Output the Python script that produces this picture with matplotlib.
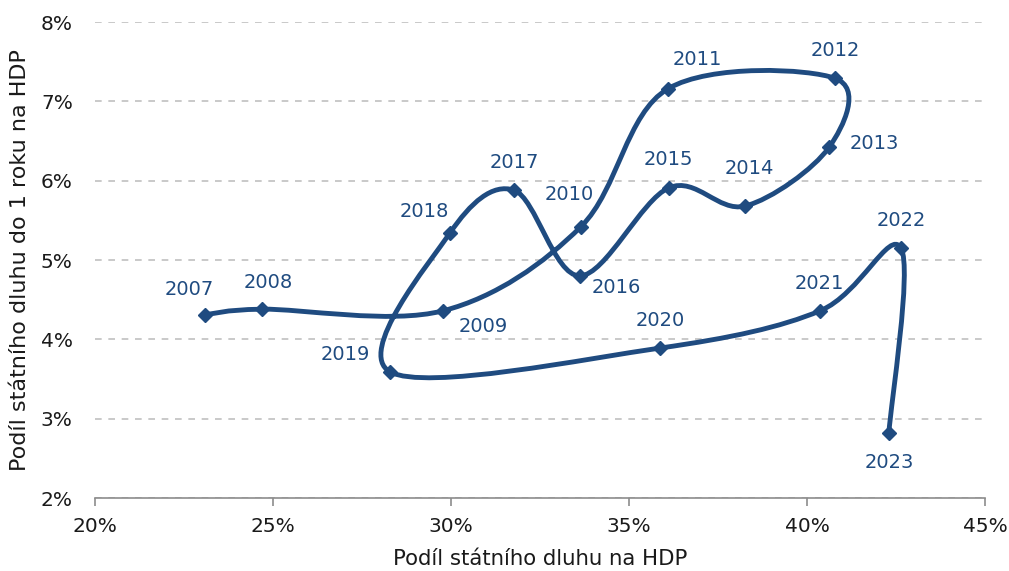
import numpy as np
import matplotlib.pyplot as plt
from matplotlib.path import Path
from matplotlib.patches import PathPatch
from matplotlib.ticker import FuncFormatter

years = ['2007', '2008', '2009', '2010', '2011', '2012', '2013', '2014', '2015',
         '2016', '2017', '2018', '2019', '2020', '2021', '2022', '2023']
debt_gdp = [23.09, 24.69, 29.78, 33.65, 36.10, 40.79, 40.62, 38.26, 36.12,
            33.62, 31.77, 29.97, 28.29, 35.87, 40.37, 42.64, 42.30]
short_debt = [4.31, 4.38, 4.36, 5.42, 7.16, 7.29, 6.42, 5.68, 5.91,
              4.80, 5.88, 5.34, 3.59, 3.89, 4.36, 5.15, 2.82]
# label offsets in pixels (dx, dy)
label_off = [(-16, 25), (6, 27), (40, -16), (-12, 32), (29, 29), (0, 28), (45, 4),
             (4, 38), (0, 28), (36, -12), (0, 28), (-26, 22), (-45, 17), (0, 28),
             (-1, 27), (0, 28), (0, -30)]

BLUE = '#1F4B80'
plt.rcParams['font.family'] = 'DejaVu Sans'

fig = plt.figure(figsize=(10.09, 5.71), dpi=100)
ax = fig.add_axes([95 / 1009, 1 - 498 / 571, 890 / 1009, 476 / 571])
ax.set_xlim(20, 45)
ax.set_ylim(2, 8)
ax.set_xticks(np.arange(20, 46, 5))
ax.set_yticks(np.arange(2, 9, 1))
pct = FuncFormatter(lambda v, p: f'{v:.0f}%')
ax.xaxis.set_major_formatter(pct)
ax.yaxis.set_major_formatter(pct)

ax.grid(axis='y', color='#C0C0C0', linestyle=(0, (4, 4)), linewidth=1.2)
ax.set_axisbelow(True)
for s in ['top', 'right', 'left']:
    ax.spines[s].set_visible(False)
ax.spines['bottom'].set_color('#8C8C8C')
ax.spines['bottom'].set_linewidth(1.2)
ax.tick_params(axis='x', colors='#8C8C8C', length=6, width=1.2, labelcolor='#1a1a1a',
               labelsize=14.5, pad=8)
ax.tick_params(axis='y', length=0, labelsize=14.5, labelcolor='#1a1a1a', pad=16)

# smoothed line (Excel-style bezier), computed in display space
pts = ax.transData.transform(np.column_stack([debt_gdp, short_debt]))
n = len(pts)
verts = [pts[0]]
codes = [Path.MOVETO]
for i in range(n - 1):
    p0 = pts[i - 1] if i > 0 else pts[i]
    p1 = pts[i]
    p2 = pts[i + 1]
    p3 = pts[i + 2] if i + 2 < n else pts[i + 1]
    c1 = p1 + (p2 - p0) / 6
    c2 = p2 - (p3 - p1) / 6
    verts += [c1, c2, p2]
    codes += [Path.CURVE4] * 3
verts = ax.transData.inverted().transform(np.array(verts))
ax.add_patch(PathPatch(Path(verts, codes), facecolor='none', edgecolor=BLUE,
                       linewidth=3.5, capstyle='round', joinstyle='round', zorder=3))
ax.plot(debt_gdp, short_debt, linestyle='none', marker='D', markersize=7,
        color=BLUE, zorder=4)

for yr, x, y, off in zip(years, debt_gdp, short_debt, label_off):
    ax.annotate(yr, (x, y), xytext=(off[0] * 0.72, off[1] * 0.72),
                textcoords='offset points', ha='center', va='center',
                fontsize=14, color=BLUE)

ax.set_xlabel('Podíl státního dluhu na HDP', fontsize=15.3, color='#1a1a1a', labelpad=9)
ax.set_ylabel('Podíl státního dluhu do 1 roku na HDP', fontsize=16, color='#1a1a1a',
              labelpad=8)

fig.savefig('out.png', dpi=100)
